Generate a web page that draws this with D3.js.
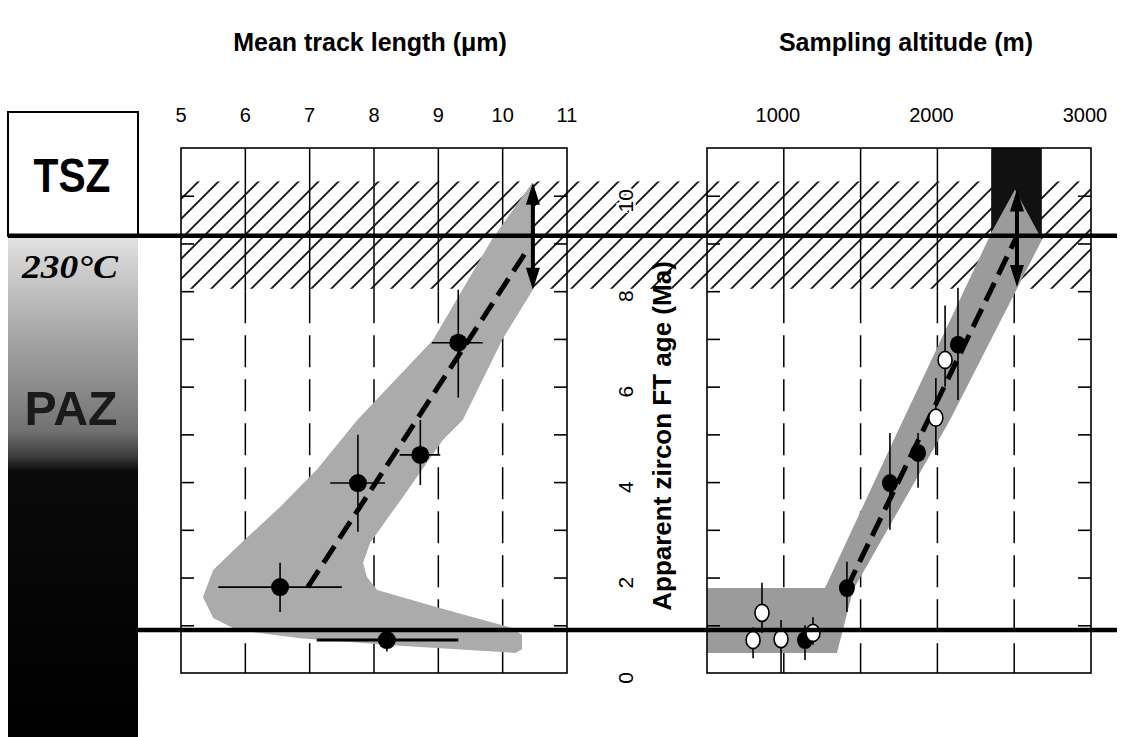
<!DOCTYPE html>
<html>
<head>
<meta charset="utf-8">
<script src="https://cdn.jsdelivr.net/npm/d3@7"></script>
<style>
  body { margin: 0; background: #fff; }
  text { font-family: "Liberation Sans", Arial, sans-serif; }
</style>
</head>
<body>
<div id="vis"></div>
<script>
var width = 1123;
var height = 737;

// ticks
var lenTicks = [5, 6, 7, 8, 9, 10, 11];
var lenGrid = [6, 7, 8, 9, 10];
var altTicks = [1000, 2000, 3000];
var altGrid = [1000, 1500, 2000, 2500];
var ageTicks = [0, 2, 4, 6, 8, 10];
var ageMinor = [1, 2, 3, 4, 5, 6, 7, 8, 9, 10];

// zones (Ma)
var hatchAges = [8.05, 10.3];
var isoAges = [9.16, 0.9];   // 230°C line, lower line

// mean track length vs age: [len, age, lenLo, lenHi, ageLo, ageHi]
var lenPoints = [
  [9.31, 6.92, 8.9, 9.69, 5.77, 8.03],
  [8.72, 4.57, 8.4, 9.03, 3.94, 5.3],
  [7.75, 3.98, 7.32, 8.17, 2.96, 4.99],
  [6.54, 1.8, 5.58, 7.5, 1.28, 2.31],
  [8.2, 0.69, 7.11, 9.31, 0.45, 0.9]
];
var lenTrend = [[6.97, 1.8], [10.4, 8.9]];
var lenArrow = [10.47, 8.03, 10.27];
var lenBand = [
  [10.46, 10.27], [10.47, 8.03], [10.0, 7.0], [9.38, 5.3], [9.07, 4.88],
  [8.45, 3.69], [7.94, 2.73], [7.83, 2.31], [7.89, 2.01], [8.05, 1.74],
  [8.98, 1.38], [10.11, 0.96], [10.3, 0.8], [10.3, 0.5], [10.2, 0.42],
  [8.4, 0.57], [6.85, 0.73], [5.87, 0.9], [5.5, 1.15], [5.34, 1.59],
  [5.5, 2.16], [5.87, 2.64], [6.54, 3.48], [7.11, 4.26], [7.74, 5.3],
  [8.92, 6.98], [9.83, 9.08]
];

// sampling altitude vs age: [alt, age, ageLo, ageHi]
var altFilled = [
  [2134, 6.88, 5.72, 8.07],
  [1874, 4.61, 3.88, 5.03],
  [1691, 3.98, 3.0, 5.03],
  [1411, 1.78, 1.28, 2.33],
  [1138, 0.69, 0.27, 1.0]
];
var altOpen = [
  [2050, 6.56, 6.0, 7.7],
  [1990, 5.35, 4.57, 6.18],
  [858, 1.26, 0.84, 1.89],
  [800, 0.69, 0.31, 0.96],
  [982, 0.71, 0, 1.11],
  [1190, 0.84, 0.59, 1.17]
];
var altTrend = [[1411, 1.78], [2510, 9.1]];
var altArrow = [2518, 8.09, 10.13];
var altBox = [2350, 2680, 9.16, 11];
var altBand = [
  [2505, 10.13], [2681, 9.08], [2082, 5.3], [1451, 1.74], [1346, 0.42],
  [500, 0.42], [500, 1.78], [1268, 1.78], [1737, 5.03], [2355, 9.25]
];

var svg = d3.select("#vis")
  .append("svg")
  .attr("width", width)
  .attr("height", height)
  .style("background-color", "white");

var yAge = d3.scaleLinear().domain([0, 11]).range([673, 148]);
var xLen = d3.scaleLinear().domain([5, 11]).range([181, 567]);
var xAlt = d3.scaleLinear().domain([500, 3000]).range([707, 1091]);

var defs = svg.append("defs");
var pat = defs.append("pattern")
  .attr("id", "hatch")
  .attr("patternUnits", "userSpaceOnUse")
  .attr("width", 20).attr("height", 20);
pat.append("path")
  .attr("d", "M0,20 L20,0 M-5,5 L5,-5 M15,25 L25,15")
  .attr("stroke", "#111").attr("stroke-width", 1.8);

var grad = defs.append("linearGradient")
  .attr("id", "paz")
  .attr("gradientUnits", "userSpaceOnUse")
  .attr("x1", 0).attr("x2", 0)
  .attr("y1", yAge(isoAges[0])).attr("y2", height);
[[0, "#e4e4e4"], [0.06, "#cfcfcf"], [0.19, "#a9a9a9"], [0.3, "#8c8c8c"],
 [0.39, "#717171"], [0.44, "#3c3c3c"], [0.47, "#0a0a0a"], [1, "#000"]]
  .forEach(s => grad.append("stop").attr("offset", s[0]).attr("stop-color", s[1]));

// left column (TSZ / PAZ)
var colX0 = 8, colX1 = 138;
svg.append("rect")
  .attr("x", colX0).attr("y", yAge(isoAges[0]))
  .attr("width", colX1 - colX0).attr("height", height - yAge(isoAges[0]))
  .attr("fill", "url(#paz)");
svg.append("rect")
  .attr("x", colX0).attr("y", 112)
  .attr("width", colX1 - colX0).attr("height", yAge(isoAges[0]) - 112)
  .attr("fill", "white").attr("stroke", "black").attr("stroke-width", 2);
svg.append("text")
  .attr("x", 72).attr("y", 192)
  .attr("text-anchor", "middle")
  .attr("font-size", 48).attr("font-weight", "bold")
  .attr("textLength", 77).attr("lengthAdjust", "spacingAndGlyphs")
  .text("TSZ");
svg.append("text")
  .attr("x", 70).attr("y", 278)
  .attr("text-anchor", "middle")
  .style("font-family", "'Liberation Serif', 'Times New Roman', serif")
  .attr("font-size", 33).attr("font-style", "italic").attr("font-weight", "bold")
  .attr("textLength", 96).attr("lengthAdjust", "spacingAndGlyphs")
  .text("230°C");
svg.append("text")
  .attr("x", 71).attr("y", 425)
  .attr("text-anchor", "middle")
  .attr("font-size", 48).attr("font-weight", "bold")
  .attr("fill", "#1a1a1a")
  .attr("textLength", 93).attr("lengthAdjust", "spacingAndGlyphs")
  .text("PAZ");

// panels
function panel(x, gridVals) {
  var g = svg.append("g");
  g.selectAll(".gs").data(gridVals).join("line")
    .attr("x1", d => x(d)).attr("x2", d => x(d))
    .attr("y1", yAge(11)).attr("y2", yAge(8))
    .attr("stroke", "black").attr("stroke-width", 1.5);
  g.selectAll(".gd").data(gridVals).join("line")
    .attr("x1", d => x(d)).attr("x2", d => x(d))
    .attr("y1", yAge(8)).attr("y2", yAge(0))
    .attr("stroke", "black").attr("stroke-width", 1.5)
    .attr("stroke-dasharray", "32,12");
  return g;
}
panel(xLen, lenGrid);
panel(xAlt, altGrid);

// hatch band across both panels
svg.append("rect")
  .attr("x", xLen(5)).attr("y", yAge(hatchAges[1]))
  .attr("width", xAlt(3000) - xLen(5))
  .attr("height", yAge(hatchAges[0]) - yAge(hatchAges[1]))
  .attr("fill", "url(#hatch)");

// dark box (right panel top)
svg.append("rect")
  .attr("x", xAlt(altBox[0])).attr("y", yAge(altBox[3]))
  .attr("width", xAlt(altBox[1]) - xAlt(altBox[0]))
  .attr("height", yAge(altBox[2]) - yAge(altBox[3]))
  .attr("fill", "#111");

// bands
svg.append("path")
  .attr("d", d3.line().x(d => xLen(d[0])).y(d => yAge(d[1]))(lenBand) + "Z")
  .attr("fill", "#ababab");
svg.append("path")
  .attr("d", d3.line().x(d => xAlt(d[0])).y(d => yAge(d[1]))(altBand) + "Z")
  .attr("fill", "#9b9b9b");

// trend lines
svg.append("path")
  .attr("d", d3.line().x(d => xLen(d[0])).y(d => yAge(d[1]))(lenTrend))
  .attr("stroke", "black").attr("stroke-width", 5).attr("fill", "none")
  .attr("stroke-dasharray", "20,9");
svg.append("path")
  .attr("d", d3.line().x(d => xAlt(d[0])).y(d => yAge(d[1]))(altTrend))
  .attr("stroke", "black").attr("stroke-width", 5).attr("fill", "none")
  .attr("stroke-dasharray", "20,9");

// left error bars and points
var lp = svg.append("g");
lp.selectAll(".eh").data(lenPoints).join("line")
  .attr("x1", d => xLen(d[2])).attr("x2", d => xLen(d[3]))
  .attr("y1", d => yAge(d[1])).attr("y2", d => yAge(d[1]))
  .attr("stroke", "black").attr("stroke-width", (d, i) => i == 4 ? 3 : 1.6);
lp.selectAll(".ev").data(lenPoints).join("line")
  .attr("x1", d => xLen(d[0])).attr("x2", d => xLen(d[0]))
  .attr("y1", d => yAge(d[4])).attr("y2", d => yAge(d[5]))
  .attr("stroke", "black").attr("stroke-width", 1.6);
lp.selectAll("circle").data(lenPoints).join("circle")
  .attr("cx", d => xLen(d[0])).attr("cy", d => yAge(d[1]))
  .attr("r", 9).attr("fill", "black");

// right error bars and points
var rp = svg.append("g");
rp.selectAll(".ev").data(altFilled.concat(altOpen)).join("line")
  .attr("x1", d => xAlt(d[0])).attr("x2", d => xAlt(d[0]))
  .attr("y1", d => yAge(d[2])).attr("y2", d => yAge(d[3]))
  .attr("stroke", "black").attr("stroke-width", 1.6);
rp.selectAll(".pf").data(altFilled).join("ellipse")
  .attr("cx", d => xAlt(d[0])).attr("cy", d => yAge(d[1]))
  .attr("rx", 8).attr("ry", 9).attr("fill", "black");
rp.selectAll(".po").data(altOpen).join("ellipse")
  .attr("cx", d => xAlt(d[0])).attr("cy", d => yAge(d[1]))
  .attr("rx", 7).attr("ry", 8.5)
  .attr("fill", "white").attr("stroke", "black").attr("stroke-width", 1.6);

// double arrows
function arrow(x, a) {
  var xp = x, yTop = yAge(a[2]), yBot = yAge(a[1]);
  svg.append("line")
    .attr("x1", xp).attr("x2", xp).attr("y1", yTop + 14).attr("y2", yBot - 14)
    .attr("stroke", "black").attr("stroke-width", 4);
  svg.append("path")
    .attr("d", `M${xp},${yTop} L${xp - 7},${yTop + 22} L${xp + 7},${yTop + 22} Z`)
    .attr("fill", "black");
  svg.append("path")
    .attr("d", `M${xp},${yBot} L${xp - 7},${yBot - 22} L${xp + 7},${yBot - 22} Z`)
    .attr("fill", "black");
}
arrow(xLen(lenArrow[0]), lenArrow);
arrow(xAlt(altArrow[0]), altArrow);

// isotherm lines
svg.append("line")
  .attr("x1", colX0).attr("x2", 1117)
  .attr("y1", yAge(isoAges[0])).attr("y2", yAge(isoAges[0]))
  .attr("stroke", "black").attr("stroke-width", 4.5);
svg.append("line")
  .attr("x1", colX1).attr("x2", 1117)
  .attr("y1", yAge(isoAges[1])).attr("y2", yAge(isoAges[1]))
  .attr("stroke", "black").attr("stroke-width", 4.5);

// frames and inward ticks
[xLen, xAlt].forEach(x => {
  var x0 = x.range()[0], x1 = x.range()[1];
  svg.append("rect")
    .attr("x", x0).attr("y", yAge(11))
    .attr("width", x1 - x0).attr("height", yAge(0) - yAge(11))
    .attr("fill", "none").attr("stroke", "black").attr("stroke-width", 1.6);
  svg.append("g").attr("transform", `translate(${x0},0)`)
    .call(d3.axisRight(yAge).tickValues(ageMinor).tickSize(13).tickFormat(""))
    .call(g => g.select(".domain").remove())
    .selectAll("line").attr("stroke-width", 1.6);
  svg.append("g").attr("transform", `translate(${x1},0)`)
    .call(d3.axisLeft(yAge).tickValues(ageMinor).tickSize(13).tickFormat(""))
    .call(g => g.select(".domain").remove())
    .selectAll("line").attr("stroke-width", 1.6);
});

// top tick labels
svg.append("g").selectAll("text").data(lenTicks).join("text")
  .attr("x", d => xLen(d)).attr("y", 122)
  .attr("text-anchor", "middle").attr("font-size", 20)
  .text(d => d);
svg.append("g").selectAll("text").data(altTicks).join("text")
  .attr("x", d => xAlt(d) - 6).attr("y", 122)
  .attr("text-anchor", "middle").attr("font-size", 20)
  .text(d => d);

// age labels (between panels)
svg.append("g").selectAll("text").data(ageTicks).join("text")
  .attr("transform", d => `translate(625,${yAge(d) + 5}) rotate(-90)`)
  .attr("text-anchor", "middle").attr("dominant-baseline", "central")
  .attr("font-size", 21)
  .attr("stroke", "white").attr("stroke-width", 5).attr("paint-order", "stroke")
  .text(d => d);

// titles
svg.append("text")
  .attr("x", 370).attr("y", 51)
  .attr("text-anchor", "middle").attr("font-size", 25).attr("font-weight", "bold")
  .text("Mean track length (\u03bcm)");
svg.append("text")
  .attr("x", 906).attr("y", 51)
  .attr("text-anchor", "middle").attr("font-size", 25).attr("font-weight", "bold")
  .text("Sampling altitude (m)");
svg.append("text")
  .attr("transform", "translate(662,436) rotate(-90)")
  .attr("text-anchor", "middle").attr("dominant-baseline", "central")
  .attr("font-size", 26).attr("font-weight", "bold")
  .text("Apparent zircon FT age (Ma)");
</script>
</body>
</html>
